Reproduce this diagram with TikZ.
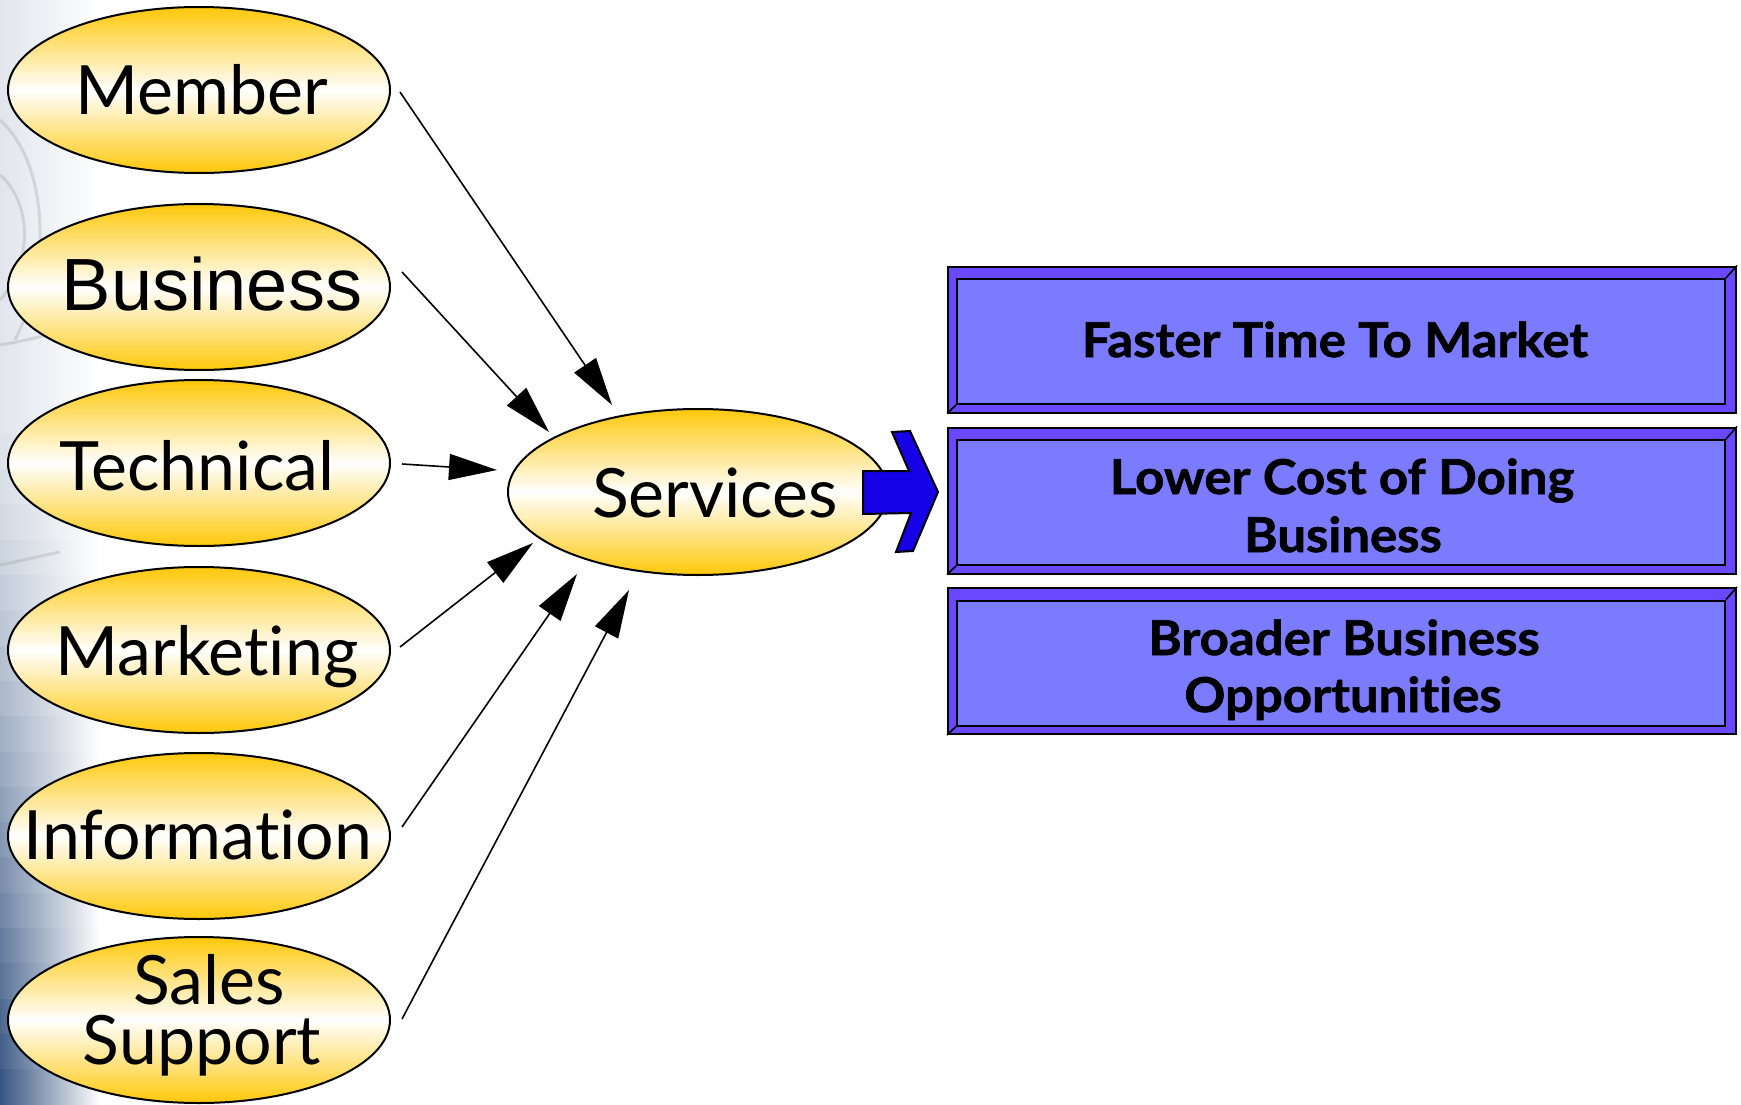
\documentclass[tikz,border=0pt]{standalone}
\usepackage{fontspec}
\setmainfont{Lato}[Ligatures={NoCommon,NoRequired}]
\newfontfamily\arialf{Liberation Sans}
\newfontfamily\boxf{Lato}[Ligatures={NoCommon,NoRequired}, BoldFeatures={FakeBold=1.4, FakeStretch=1.06}]
\usetikzlibrary{arrows.meta,shapes.geometric}

\definecolor{gold}{RGB}{255,200,10}
\definecolor{framec}{RGB}{106,72,255}
\definecolor{innerc}{RGB}{123,123,255}
\definecolor{bluearrow}{RGB}{22,0,230}
\definecolor{bgdark}{RGB}{55,85,130}
\definecolor{bglight}{RGB}{225,230,236}

\begin{document}
\begin{tikzpicture}[x=1pt,y=-1pt,
  oval/.style={ellipse, draw=black, line width=2pt, minimum width=382pt, minimum height=166pt,
    inner sep=0pt, top color=gold, bottom color=gold, middle color=white},
  lbl/.style={anchor=base, inner sep=0pt, font=\fontsize{68}{74}\selectfont},
  boxlbl/.style={anchor=base, inner sep=0pt, font=\boxf\bfseries\fontsize{48}{52}\selectfont},
  conn/.style={line width=1.6pt, -{Triangle[length=48pt,width=26pt]}},
  outerbox/.style={draw=black, line width=2pt, fill=framec, minimum width=788pt, minimum height=146pt, inner sep=0pt},
  innerbox/.style={draw=black, line width=2pt, fill=innerc, minimum width=768pt, minimum height=125pt, inner sep=0pt},
  bevel/.style={line width=1.6pt}
]
\useasboundingbox (0,0) rectangle (1741,1105);
\fill[white] (0,0) rectangle (1741,1105);
% faint background at the left edge
\fill[left color=bglight, right color=white] (0,0) rectangle (100,400);
\foreach \i in {0,...,19} {
  \pgfmathtruncatemacro{\p}{round(100*(\i/19)^1.3)}
  \colorlet{stripc}{bgdark!\p!bglight}
  \fill[left color=stripc, middle color=stripc!45!white, right color=white]
    (0,{399+\i*35.3}) rectangle (100,{436+\i*35.3});
}
\begin{scope}[opacity=0.35, draw=gray!70, line width=3pt]
  \draw (0,120) .. controls (45,160) and (55,260) .. (15,340);
  \draw (0,175) .. controls (30,200) and (35,260) .. (0,300);
  \draw (0,345) .. controls (30,340) and (45,335) .. (70,330);
  \draw (0,565) .. controls (25,560) and (40,556) .. (60,552);
\end{scope}

% source ovals
\node[oval] (m)   at (199,90)  {};
\node[oval] (b)   at (199,287) {};
\node[oval] (t)   at (199,463) {};
\node[oval] (mk)  at (199,650) {};
\node[oval] (inf) at (199,836) {};
\node[oval] (ss)  at (199,1020) {};
\node[oval, minimum width=380pt] (s) at (698,492) {};

\node[lbl] (mt) at (202,115) {Member};
\node[lbl, font=\arialf\fontsize{74}{80}\selectfont] (bt) at (212,310) {Business};
\node[lbl] (tt) at (197,490) {Technical};
\node[lbl] (mkt) at (207,675) {Marketing};
\node[lbl] (inft) at (198,859) {Information};
\node[lbl] (sst1) at (209,1004) {Sales};
\node[lbl] (sst2) at (202,1064) {Support};
\node[lbl] (st) at (715,517) {Services};

% connector end points
\coordinate (m-o) at (400,92);    \coordinate (s-i1) at (612,405);
\coordinate (b-o) at (402,272);   \coordinate (s-i2) at (549,432);
\coordinate (t-o) at (402,464);   \coordinate (s-i3) at (497,470);
\coordinate (mk-o) at (400,647);  \coordinate (s-i4) at (533,543);
\coordinate (inf-o) at (402,827); \coordinate (s-i5) at (577,574);
\coordinate (ss-o) at (402,1019); \coordinate (s-i6) at (629,590);

\draw[conn] (m-o) -- (s-i1);
\draw[conn] (b-o) -- (s-i2);
\draw[conn] (t-o) -- (s-i3);
\draw[conn] (mk-o) -- (s-i4);
\draw[conn] (inf-o) -- (s-i5);
\draw[conn] (ss-o) -- (s-i6);

% blue arrow
\draw[fill=bluearrow, line width=2pt, line join=miter]
  (863,471) -- (909,471) -- (892,432) -- (910,431) -- (938,492) -- (913,551)
  -- (896,552) -- (911,513) -- (863,514) -- cycle;

% bevel boxes
\node[outerbox] (o1) at (1342,339.5) {};
\node[innerbox] (i1) at (1341,341.5) {};
\draw[bevel] (o1.south west) -- (i1.south west);
\draw[bevel] (o1.north east) -- (i1.north east);
\node[boxlbl] (l1) at (1335,357) {Faster Time To Market};

\node[outerbox] (o2) at (1342,500.5) {};
\node[innerbox] (i2) at (1341,502.5) {};
\draw[bevel] (o2.south west) -- (i2.south west);
\draw[bevel] (o2.north east) -- (i2.north east);
\node[boxlbl] (l2a) at (1342,494) {Lower Cost of Doing};
\node[boxlbl] (l2b) at (1343,552) {Business};

\node[outerbox] (o3) at (1342,661) {};
\node[innerbox] (i3) at (1341,663) {};
\draw[bevel] (o3.south west) -- (i3.south west);
\draw[bevel] (o3.north east) -- (i3.north east);
\node[boxlbl] (l3a) at (1344,655) {Broader Business};
\node[boxlbl] (l3b) at (1343,712) {Opportunities};
\end{tikzpicture}
\end{document}
